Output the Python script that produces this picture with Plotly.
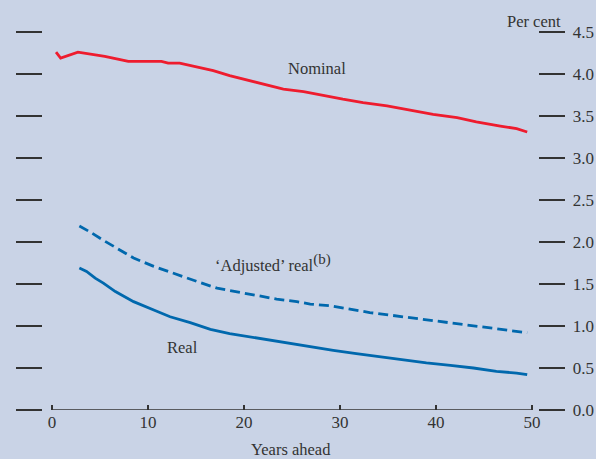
import plotly.graph_objects as go

# Years ahead
nominal_x = [0.42, 0.9, 2.7, 4.3, 5.5, 7.1, 7.95, 11.4, 12.1, 13.3, 15.4, 16.8, 18.5, 19.9, 22.4, 24.1,
             26.2, 28.3, 30.3, 32.4, 34.9, 37.3, 39.7, 42.2, 44.2, 46.7, 48.4, 49.5]
nominal_y = [4.26, 4.19, 4.26, 4.23, 4.21, 4.17, 4.15, 4.15, 4.13, 4.13, 4.08, 4.04, 3.98, 3.94, 3.87, 3.82,
             3.79, 3.74, 3.70, 3.66, 3.62, 3.57, 3.52, 3.48, 3.43, 3.38, 3.35, 3.31]

adj_x = [2.85, 3.96, 5.35, 7.1, 8.5, 10.6, 13.0, 15.1, 17.2, 19.2, 21.3, 23.4, 25.5, 26.9, 29.0, 31.0,
         33.1, 35.2, 37.3, 39.4, 41.5, 43.9, 46.3, 48.4, 49.5]
adj_y = [2.19, 2.12, 2.02, 1.90, 1.81, 1.71, 1.61, 1.53, 1.45, 1.41, 1.36, 1.32, 1.29, 1.26, 1.24, 1.20,
         1.16, 1.13, 1.10, 1.07, 1.04, 1.00, 0.97, 0.94, 0.92]

real_x = [2.85, 3.6, 4.5, 5.35, 6.6, 8.5, 10.6, 12.3, 14.4, 16.5, 18.5, 20.6, 22.7, 25.0, 26.9, 29.3,
          31.7, 34.2, 36.6, 39.0, 41.5, 43.9, 46.3, 48.4, 49.5]
real_y = [1.69, 1.65, 1.57, 1.51, 1.41, 1.29, 1.19, 1.11, 1.04, 0.96, 0.91, 0.87, 0.83, 0.79, 0.75, 0.71,
          0.67, 0.63, 0.60, 0.56, 0.53, 0.50, 0.46, 0.44, 0.42]

x_ticks = [0, 10, 20, 30, 40, 50]
y_ticks = [0, 0.5, 1.0, 1.5, 2.0, 2.5, 3.0, 3.5, 4.0, 4.5]
y_labels = [f"{v:.1f}" for v in y_ticks]

RED = "#ee1c2e"
BLUE = "#0068ad"
BG = "#c9d3e6"
INK = "#333333"
FONT = "Liberation Serif"
TXT = 16.5
TICK = 17

fig = go.Figure()
fig.add_trace(go.Scatter(x=nominal_x, y=nominal_y, mode="lines",
                         line=dict(color=RED, width=2.8), showlegend=False))
fig.add_trace(go.Scatter(x=adj_x, y=adj_y, mode="lines",
                         line=dict(color=BLUE, width=2.8, dash="10px,5px"), showlegend=False))
fig.add_trace(go.Scatter(x=real_x, y=real_y, mode="lines",
                         line=dict(color=BLUE, width=2.8), showlegend=False))
# right axis carries the labels
fig.add_trace(go.Scatter(x=[0], y=[0], yaxis="y2", mode="markers", marker=dict(opacity=0),
                         showlegend=False, hoverinfo="skip"))

fig.add_shape(type="line", xref="x", yref="y", x0=x_ticks[0], x1=x_ticks[-1], y0=0, y1=0,
              line=dict(color=INK, width=1.5))

fig.update_layout(
    width=596, height=459,
    margin=dict(l=43, r=58, t=32, b=49, autoexpand=False),
    paper_bgcolor=BG, plot_bgcolor=BG,
    font=dict(family=FONT, size=TXT, color=INK),
    xaxis=dict(range=[-0.9375, 50.625], tickvals=x_ticks, ticktext=[str(v) for v in x_ticks],
               ticks="inside", ticklen=5, tickwidth=1.5, tickcolor=INK,
               tickfont=dict(family=FONT, size=TICK, color=INK), automargin=False,
               showgrid=False, zeroline=False, showline=False, fixedrange=True),
    yaxis=dict(range=[0, 4.5], tickvals=y_ticks, ticks="outside", ticklen=26, tickwidth=1.5,
               tickcolor=INK, showticklabels=False, showgrid=False, zeroline=False, showline=False,
               automargin=False),
    yaxis2=dict(range=[0, 4.5], tickvals=y_ticks, ticktext=[" " + s for s in y_labels],
                overlaying="y", side="right",
                ticks="outside", ticklen=26, tickwidth=1.5, tickcolor=INK,
                tickfont=dict(family=FONT, size=TICK, color=INK), automargin=False,
                showgrid=False, zeroline=False, showline=False),
    annotations=[
        dict(text="Nominal", x=27.6, y=4.07, xref="x", yref="y", showarrow=False),
        dict(text="‘Adjusted’ real<sup><span style='font-size:15px'>(b)</span></sup>",
             x=23.0, y=1.75, xref="x", yref="y", showarrow=False),
        dict(text="Real", x=13.6, y=0.75, xref="x", yref="y", showarrow=False),
        dict(text="Per cent", x=1.0505, y=1.029, xref="paper", yref="paper",
             xanchor="right", yanchor="middle", showarrow=False),
        dict(text="Years ahead", x=0.5, y=-0.105, xref="paper", yref="paper",
             xanchor="center", yanchor="middle", showarrow=False),
    ],
)

fig.write_html("out.html")
